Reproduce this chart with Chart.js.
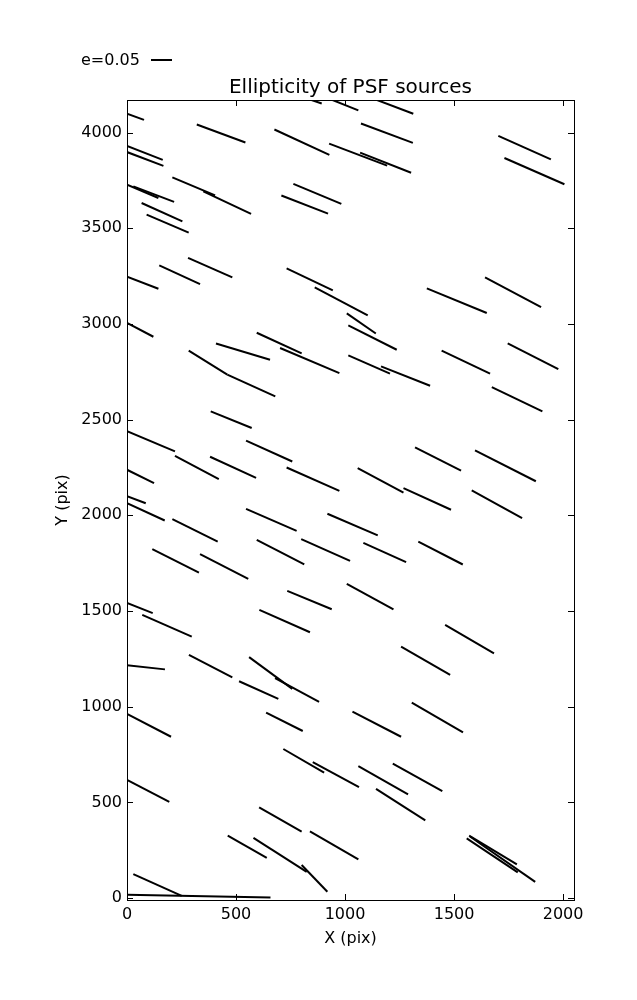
<!DOCTYPE html>
<html>
<head>
<meta charset="utf-8">
<title>Ellipticity of PSF sources</title>
<script src="https://cdn.jsdelivr.net/npm/chart.js@4"></script>
<style>
    body { margin: 0; background: #fff; }
    canvas { display: block; }
</style>
</head>
<body>
<canvas id="psfChart" width="637" height="1000"></canvas>
<script>
// whisker end points, in pixel coordinates of the CCD
const xStart = [0, 320, 676, 927, 1069, 0, 0, 208, 350, 0, 29, 67, 90, 708, 763, 0, 148, 280, 0, 732,
    861, 595, 702, 408, 283, 460, 794, 920, 1100, 1073, 1703, 1731, 1642, 1375, 1008, 1015, 1015, 1165, 1443, 1746,
    1673, 384, 0, 220, 546, 381, 732, 0, 0, 0, 208, 546, 595, 799, 919, 116, 335, 0, 70, 607,
    735, 1321, 1596, 1058, 1268, 1581, 1084, 1336, 1008, 1459, 0, 284, 514, 560, 679, 0, 638, 0, 717, 852,
    606, 462, 580, 801, 839, 29, 0, 1257, 1306, 1034, 1061, 1219, 1142, 1569, 1558, 1573];
const yStart = [4098, 4042, 4016, 3942, 3895, 3930, 3898, 3766, 3693, 3728, 3719, 3632, 3571, 3671, 3732, 3247, 3306, 3345, 3005, 3290,
    3191, 2954, 2874, 2898, 2860, 2735, 4190, 4180, 4190, 4047, 3983, 3867, 3243, 3186, 3055, 2992, 2836, 2778, 2860, 2898,
    2670, 2543, 2440, 2311, 2390, 2306, 2250, 2238, 2100, 2064, 1980, 2034, 1872, 1876, 2008, 1823, 1797, 1542, 1480, 1506,
    1605, 2355, 2339, 2247, 2142, 2130, 1856, 1863, 1642, 1427, 1216, 1271, 1133, 1259, 1149, 962, 969, 618, 779, 710,
    474, 326, 315, 173, 349, 125, 17, 1314, 1021, 974, 689, 702, 571, 326, 312, 322];
const xEnd = [78, 543, 928, 1193, 1303, 164, 167, 404, 569, 144, 216, 254, 283, 922, 983, 144, 335, 483, 121, 944,
    1104, 801, 974, 656, 460, 680, 893, 1061, 1313, 1311, 1944, 2006, 1899, 1650, 1141, 1237, 1206, 1390, 1665, 1978,
    1905, 572, 220, 421, 758, 592, 974, 124, 86, 173, 416, 778, 813, 1023, 1150, 330, 556, 118, 297, 839,
    939, 1532, 1875, 1268, 1486, 1812, 1280, 1540, 1222, 1683, 174, 483, 694, 758, 881, 202, 806, 194, 904, 1064,
    801, 641, 824, 919, 1061, 251, 658, 1482, 1541, 1257, 1289, 1446, 1368, 1788, 1792, 1872];
const yEnd = [4066, 3948, 3883, 3827, 3790, 3857, 3826, 3672, 3575, 3658, 3638, 3536, 3477, 3576, 3627, 3184, 3208, 3243, 2933, 3175,
    3045, 2846, 2743, 2813, 2735, 2621, 4152, 4116, 4098, 3946, 3860, 3730, 3088, 3057, 2950, 2865, 2740, 2677, 2740, 2764,
    2543, 2456, 2334, 2189, 2281, 2196, 2128, 2168, 2063, 1973, 1863, 1919, 1744, 1762, 1895, 1701, 1668, 1489, 1366, 1389,
    1509, 2234, 2178, 2119, 2029, 1985, 1755, 1743, 1509, 1279, 1195, 1153, 1041, 1093, 1025, 843, 873, 503, 655, 580,
    347, 210, 137, 33, 202, 12, 3, 1166, 866, 843, 542, 559, 406, 176, 134, 85];

const xTicks = [0, 500, 1000, 1500, 2000];
const yTicks = [0, 500, 1000, 1500, 2000, 2500, 3000, 3500, 4000];

document.addEventListener("DOMContentLoaded", function () {

    Chart.defaults.font.family = "'DejaVu Sans', sans-serif";
    Chart.defaults.color = "#000";

    const datasets = xStart.map((x, i) => ({
        data: [{ x: x, y: yStart[i] }, { x: xEnd[i], y: yEnd[i] }],
        showLine: true,
        borderColor: "#000",
        borderWidth: 2,
        pointRadius: 0,
        pointHoverRadius: 0
    }));

    // frame, inward ticks, title and the e=0.05 key
    const framePlugin = {
        id: "frame",
        afterDraw(chart) {
            const { ctx, chartArea, scales } = chart;
            const { left, right, top, bottom } = chartArea;
            ctx.save();
            ctx.strokeStyle = "#000";
            ctx.lineWidth = 1;
            ctx.strokeRect(left + 0.5, top + 0.5, right - left, bottom - top);

            ctx.beginPath();
            xTicks.forEach(v => {
                const px = Math.round(scales.x.getPixelForValue(v)) + 0.5;
                ctx.moveTo(px, bottom);
                ctx.lineTo(px, bottom - 6);
                ctx.moveTo(px, top);
                ctx.lineTo(px, top + 6);
            });
            yTicks.forEach(v => {
                const py = Math.round(scales.y.getPixelForValue(v)) + 0.5;
                ctx.moveTo(left, py);
                ctx.lineTo(left + 6, py);
                ctx.moveTo(right, py);
                ctx.lineTo(right - 6, py);
            });
            ctx.stroke();

            ctx.fillStyle = "#000";
            ctx.font = "20px 'DejaVu Sans'";
            ctx.textAlign = "center";
            ctx.textBaseline = "alphabetic";
            ctx.fillText("Ellipticity of PSF sources", (left + right) / 2, 93);

            ctx.font = "16px 'DejaVu Sans'";
            ctx.textAlign = "left";
            ctx.fillText("e=0.05", 81, 65);
            ctx.lineWidth = 2;
            ctx.beginPath();
            ctx.moveTo(151, 60);
            ctx.lineTo(172, 60);
            ctx.stroke();
            ctx.restore();
        }
    };

    new Chart(document.getElementById("psfChart"), {
        type: "scatter",
        data: { datasets: datasets },
        plugins: [framePlugin],
        options: {
            responsive: false,
            animation: false,
            events: [],
            layout: { padding: { left: 0, top: 100, right: 63, bottom: 48 } },
            plugins: {
                legend: { display: false },
                tooltip: { enabled: false }
            },
            scales: {
                x: {
                    type: "linear",
                    min: 0,
                    max: 2050,
                    afterBuildTicks: scale => { scale.ticks = xTicks.map(v => ({ value: v })); },
                    afterFit: scale => { scale.height = 52; },
                    grid: { display: false, drawTicks: false },
                    border: { display: false },
                    ticks: { font: { size: 16 }, padding: 5, maxRotation: 0, callback: v => String(v) },
                    title: { display: true, text: "X (pix)", font: { size: 16 }, padding: { top: 0, bottom: 4 } }
                },
                y: {
                    type: "linear",
                    min: -10,
                    max: 4170,
                    afterBuildTicks: scale => { scale.ticks = yTicks.map(v => ({ value: v })); },
                    afterFit: scale => { scale.width = 127; },
                    grid: { display: false, drawTicks: false },
                    border: { display: false },
                    ticks: { font: { size: 16 }, padding: 5, callback: v => String(v) },
                    title: { display: true, text: "Y (pix)", font: { size: 16 }, padding: { top: 53, bottom: 0 } }
                }
            }
        }
    });

});
</script>
</body>
</html>
